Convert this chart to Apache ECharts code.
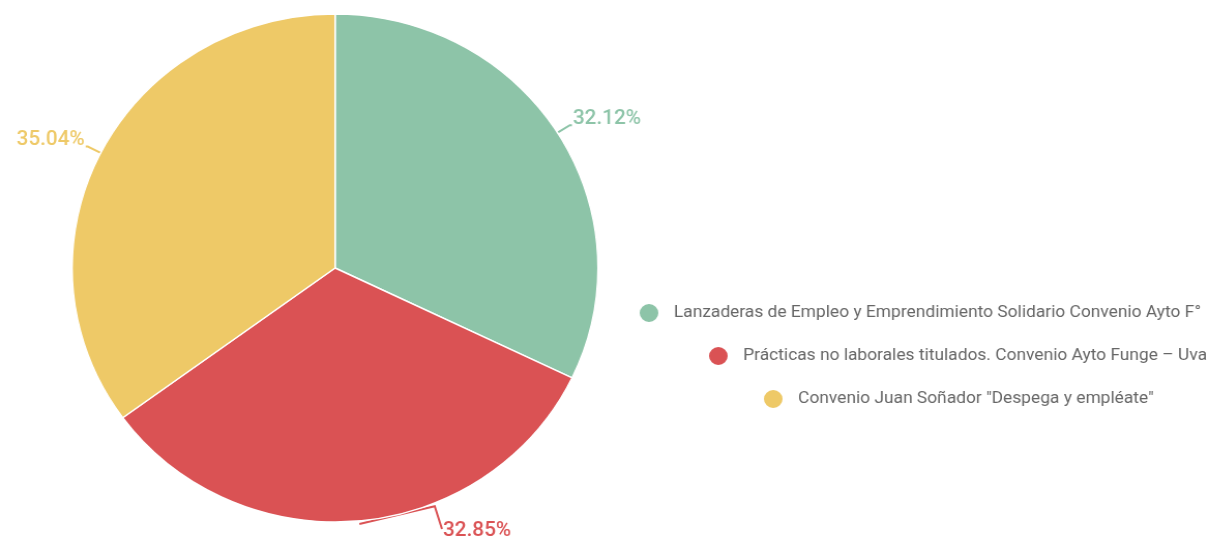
<!DOCTYPE html>
<html><head><meta charset="utf-8">
<script src="https://cdn.jsdelivr.net/npm/echarts@6/dist/echarts.min.js"></script>
<style>html,body{margin:0;padding:0;background:#fff;overflow:hidden}
#c{width:1169px;height:541px;transform:scaleX(1.0351);transform-origin:0 0}</style>
</head><body><div id="c"></div>
<script>
const categories = [
  'Lanzaderas de Empleo y Emprendimiento Solidario Convenio Ayto F\u00b0',
  'Pr\u00e1cticas no laborales titulados. Convenio Ayto Funge \u2013 Uva',
  'Convenio Juan So\u00f1ador "Despega y empl\u00e9ate"'
];
const values = [32.12, 32.85, 35.04];
const colors = ['#8DC4A8', '#DA5254', '#EEC967'];

const CX = 323.7, CY = 268, R = 254;
const chart = echarts.init(document.getElementById('c'));
const legendPos = [[611, 297], [678, 340], [731, 383]];
const legends = categories.map((name, i) => ({
  orient: 'vertical', left: legendPos[i][0], top: legendPos[i][1],
  data: [name], icon: 'circle', itemWidth: 20, itemHeight: 20,
  textStyle: { color: '#666', fontSize: 16.8, fontFamily: 'Roboto', padding: [0, 0, 0, 9] }
}));
function edge(deg, extra) {
  const a = deg * Math.PI / 180;
  return [CX + (R + extra) * Math.cos(a), CY + (R + extra) * Math.sin(a)];
}
chart.setOption({
  animation: false,
  color: colors,
  legend: legends,
  series: [{
    type: 'pie',
    center: [CX, CY],
    radius: R,
    startAngle: 90,
    clockwise: true,
    avoidLabelOverlap: false,
    itemStyle: { borderColor: '#fff', borderWidth: 1.5 },
    label: {
      show: true, position: 'outside', fontFamily: 'Roboto', fontSize: 20, fontWeight: 500,
      formatter: p => p.value.toFixed(2) + '%', distanceToLabelLine: 1
    },
    labelLine: { show: true, length: 14, length2: 2, smooth: false, lineStyle: { width: 2 } },
    labelLayout: function (params) {
      if (params.dataIndex === 1) {
        const lx = 428, ly = 531;
        const mid = 90 - (values[0] + values[1] / 2) * 3.6; // math angle
        return {
          x: lx, y: ly, align: 'left', verticalAlign: 'middle',
          labelLinePoints: [edge(-mid, 3), edge(68, 3), [lx - 1, ly - 2]]
        };
      }
      if (params.dataIndex === 0) return { dy: -6 };
      if (params.dataIndex === 2) return { dy: -7 };
      return {};
    },
    data: categories.map((name, i) => ({
      name, value: values[i],
      label: { color: colors[i] }
    }))
  }]
});
</script></body></html>
